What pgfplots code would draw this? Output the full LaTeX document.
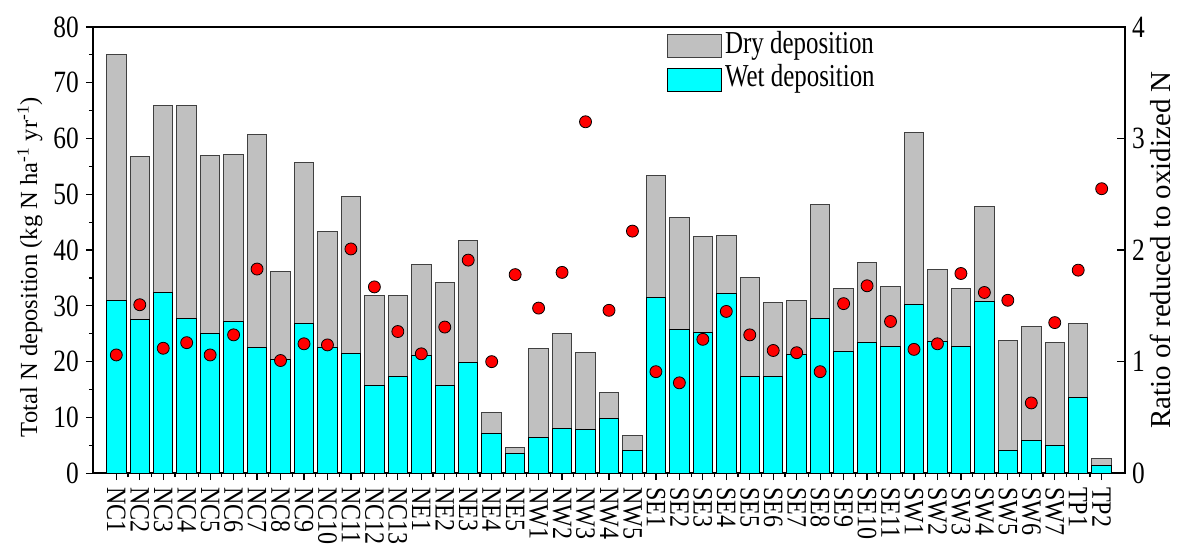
\documentclass[border=0pt]{standalone}
\usepackage{pgfplots}
\usepackage{pgfplotstable}
\pgfplotsset{compat=1.18}
\usepackage{fontspec}
\setmainfont{Liberation Serif}
\newfontfamily\condfont[FakeStretch=0.82]{Liberation Serif}
\newfontfamily\legfont[FakeStretch=0.78]{Liberation Serif}
\newfontfamily\xfont[FakeStretch=0.86]{Liberation Serif}
\definecolor{drycol}{HTML}{C0C0C0}
\definecolor{wetcol}{HTML}{00FFFF}

\pgfplotstableread{
x label wet dry ratio
0 NC1 31.0 44.1 1.06
1 NC2 27.5 29.3 1.51
2 NC3 32.4 33.5 1.12
3 NC4 27.7 38.3 1.17
4 NC5 25.1 31.9 1.06
5 NC6 27.2 30.0 1.24
6 NC7 22.6 38.1 1.83
7 NC8 20.3 15.9 1.01
8 NC9 26.9 28.8 1.16
9 NC10 22.6 20.8 1.15
10 NC11 21.4 28.2 2.01
11 NC12 15.7 16.1 1.67
12 NC13 17.3 14.6 1.27
13 NE1 21.1 16.3 1.07
14 NE2 15.8 18.3 1.31
15 NE3 19.8 22.0 1.91
16 NE4 7.2 3.6 1.00
17 NE5 3.6 1.0 1.78
18 NW1 6.4 15.9 1.48
19 NW2 8.0 17.0 1.80
20 NW3 7.9 13.8 3.15
21 NW4 9.8 4.6 1.46
22 NW5 4.1 2.6 2.17
23 SE1 31.5 21.8 0.91
24 SE2 25.7 20.1 0.81
25 SE3 25.3 17.1 1.20
26 SE4 32.3 10.4 1.45
27 SE5 17.3 17.7 1.24
28 SE6 17.3 13.3 1.10
29 SE7 21.2 9.7 1.08
30 SE8 27.8 20.4 0.91
31 SE9 21.9 11.3 1.52
32 SE10 23.4 14.4 1.68
33 SE11 22.8 10.6 1.36
34 SW1 30.3 30.7 1.11
35 SW2 23.7 12.9 1.16
36 SW3 22.8 10.3 1.79
37 SW4 30.7 17.1 1.62
38 SW5 4.1 19.7 1.55
39 SW6 5.8 20.5 0.63
40 SW7 4.9 18.5 1.35
41 TP1 13.6 13.3 1.82
42 TP2 1.4 1.3 2.55
}\data

\begin{document}
\begin{tikzpicture}
\begin{axis}[
  name=ax,
  scale only axis, width=517pt, height=223.5pt,
  xmin=-1, xmax=43, ymin=0, ymax=80,
  ybar stacked, bar width=9.75pt,
  xtick={0,...,42}, xticklabels from table={\data}{label},
  minor x tick num=1,
  ytick={0,10,...,80}, minor y tick num=1,
  tick align=outside, xtick pos=bottom, ytick pos=left,
  major tick length=3.5pt, minor tick length=2pt,
  tick style={black, line width=0.6pt},
  axis line style={line width=0.8pt},
  /pgf/number format/assume math mode=true,
  x tick label style={rotate=-90, anchor=west, font=\xfont\fontsize{14}{14}\selectfont},
  y tick label style={font=\condfont\fontsize{15.5}{16}\selectfont},
  ylabel={Total N deposition (kg N ha\textsuperscript{-1} yr\textsuperscript{-1})},
  ylabel style={at={(axis description cs:-0.061,0.462)}, anchor=center, font=\fontsize{12.3}{14}\selectfont},
  legend style={at={(0.556,0.995)}, anchor=north west, draw=none, fill=none,
    font=\legfont\fontsize{16}{16}\selectfont, row sep=0pt, inner sep=0pt,
    nodes={inner sep=1.5pt, text height=10.5pt, text depth=3.2pt},
    legend cell align=left},
  reverse legend,
  legend image code/.code={\draw[#1] (0pt,-5.75pt) rectangle (27pt,5.75pt);},
]
\addplot[fill=wetcol, draw=black, line width=0.5pt] table[x=x,y=wet]{\data};
\addlegendentry{Wet deposition}
\addplot[fill=drycol, draw=black!75, line width=0.5pt] table[x=x,y=dry]{\data};
\addlegendentry{Dry deposition}
\end{axis}
\begin{axis}[
  scale only axis, width=517pt, height=223.5pt,
  xmin=-1, xmax=43, ymin=0, ymax=4,
  axis x line=none, axis y line*=right,
  ytick={0,1,2,3,4},
  tick align=inside, major tick length=4pt,
  tick style={black, line width=0.6pt},
  axis line style={line width=0.8pt},
  /pgf/number format/assume math mode=true,
  y tick label style={font=\condfont\fontsize{15.5}{16}\selectfont},
  ylabel={Ratio of reduced to oxidized N},
  ylabel style={at={(axis description cs:1.0338,0.5)}, anchor=center, font=\fontsize{14.5}{16}\selectfont},
]
\addplot[only marks, mark=*, mark size=3pt, mark options={fill=red, draw=black, line width=0.4pt}] table[x=x,y=ratio]{\data};
\end{axis}
\path ([shift={(-46.5pt,-40.5pt)}]ax.south west) rectangle ([shift={(25pt,13.5pt)}]ax.north east);
\end{tikzpicture}
\end{document}
